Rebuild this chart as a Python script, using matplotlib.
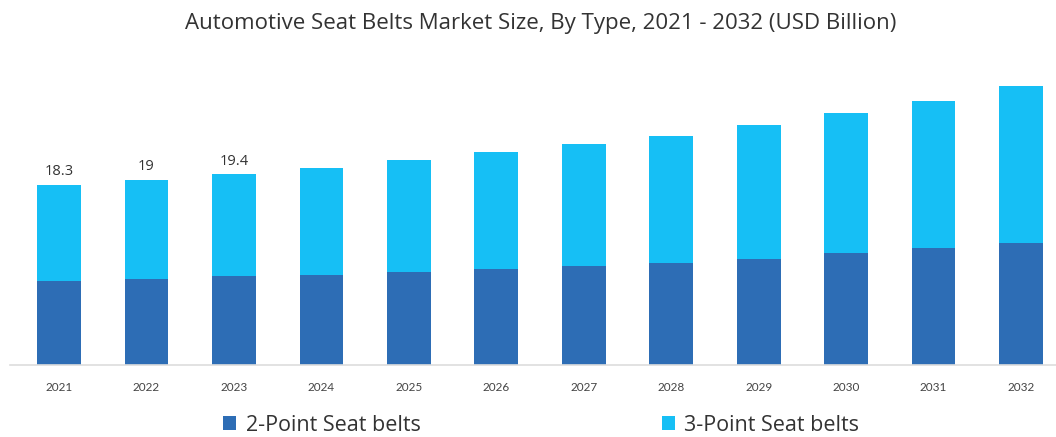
import matplotlib.pyplot as plt
import numpy as np

years = ["2021", "2022", "2023", "2024", "2025", "2026",
         "2027", "2028", "2029", "2030", "2031", "2032"]
two_point = [8.5, 8.7, 9.0, 9.15, 9.5, 9.8, 10.1, 10.4, 10.8, 11.4, 11.9, 12.4]
three_point = [9.8, 10.1, 10.4, 10.9, 11.3, 11.8, 12.4, 12.9, 13.6, 14.2, 14.95, 16.0]
total_labels = ["18.3", "19", "19.4"]

dark = "#2D6DB5"
light = "#16BFF5"

plt.rcParams['font.family'] = ['Open Sans', 'DejaVu Sans']

fig = plt.figure(figsize=(10.56, 4.37), dpi=100)
ax = fig.add_axes([0.0095, 0.1648, 0.9905, 0.653])

x = np.arange(len(years))
top = np.array(two_point) + np.array(three_point)

ax.bar(x, two_point, width=0.5, color=dark, label="2-Point Seat belts")
ax.bar(x, three_point, width=0.5, bottom=two_point, color=light, label="3-Point Seat belts")

for i, txt in enumerate(total_labels):
    ax.annotate(txt, (x[i], top[i]), xytext=(0, 4), textcoords="offset points",
                ha="center", va="bottom", fontsize=10.5, color="#333333")

ax.set_xlim(-0.56, 11.4)
ax.set_ylim(0, 29)
ax.set_xticks(x)
ax.set_xticklabels(years, fontsize=8.5, color="#444444", family=["Lato", "DejaVu Sans"])
ax.tick_params(axis="x", length=0, pad=12)
ax.set_yticks([])
for s in ["top", "right", "left"]:
    ax.spines[s].set_visible(False)
ax.spines["bottom"].set_color("#dddddd")
ax.spines["bottom"].set_linewidth(1.2)

fig.suptitle("Automotive Seat Belts Market Size, By Type, 2021 - 2032 (USD Billion)",
             x=0.512, y=0.947, va="center", fontsize=16, color="#333333")

fig.legend(loc="center left", bbox_to_anchor=(0.193, 0.027), ncol=2, frameon=False,
           fontsize=15.5, handlelength=0.6, handleheight=0.6, handletextpad=0.45,
           columnspacing=11.2, labelcolor="#333333")

fig.savefig("out.png", dpi=100)
